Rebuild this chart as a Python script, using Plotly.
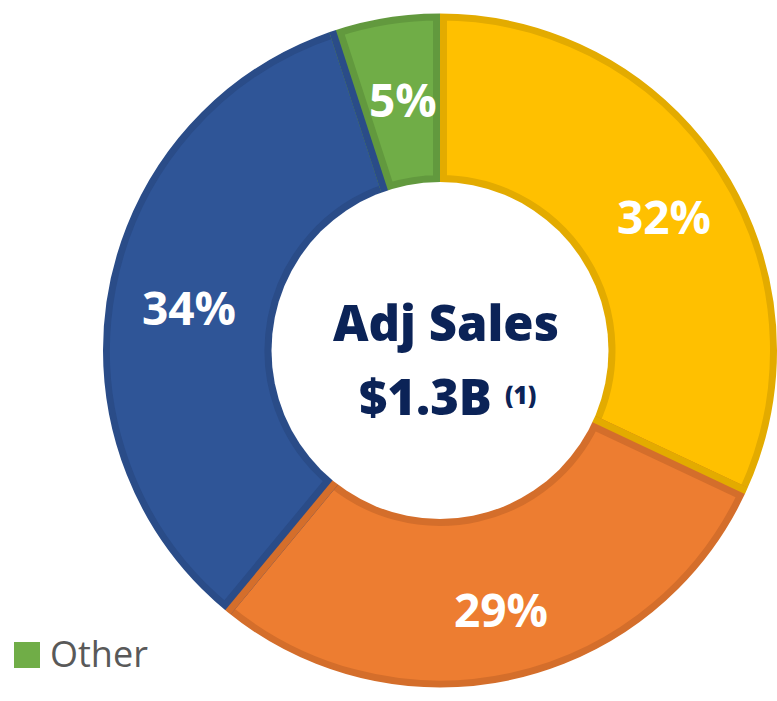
import math
import plotly.graph_objects as go

# ---- data ----
categories = ["Segment A", "Segment B", "Segment C", "Other"]
values = [32, 29, 34, 5]
fill_colors = ["#FFC000", "#ED7D31", "#2F5597", "#70AD47"]
edge_colors = ["#E3AB00", "#D46E2B", "#2A4C88", "#62993E"]
center_title = "Adj Sales"
center_value = "$1.3B"
center_note = "(1)"
legend_label = "Other"
legend_color = "#70AD47"

# ---- geometry (pixels) ----
W, H = 777, 701
CX, CY, R = 440.0, 350.5, 337.0
HOLE = 0.5
B = 7  # inner border width
LABEL_R = 260.0


def px(x):
    return x / W


def py(y):
    return 1 - y / H


fig = go.Figure()
fig.add_trace(go.Pie(
    labels=categories,
    values=values,
    sort=False,
    direction="clockwise",
    rotation=0,
    hole=HOLE,
    textinfo="none",
    marker=dict(colors=fill_colors, line=dict(color=edge_colors, width=2 * B)),
    domain=dict(x=[(2 * CX - W) / W, 1], y=[0, 1]),
    showlegend=False,
    hoverinfo="label+percent",
))

shapes = []
rh = R * HOLE
total = sum(values)

# each slice keeps its own darker edge on its side of a shared boundary
n = len(values)
cum = 0.0
bounds = []
for v in values:
    cum += v
    bounds.append(cum / total)
for i in range(n):
    theta = 2 * math.pi * (bounds[i] % 1.0)
    j = (i + 1) % n
    if j == 0:
        side, color = 1.0, edge_colors[0]      # first slice, clockwise side
    else:
        side, color = -1.0, edge_colors[i]     # earlier slice, counter-clockwise side
    ox = side * (B / 2) * math.cos(theta)
    oy = side * (B / 2) * math.sin(theta)
    r0, r1 = rh - 4, R + 4
    x0 = CX + r0 * math.sin(theta) + ox
    y0 = CY - r0 * math.cos(theta) + oy
    x1 = CX + r1 * math.sin(theta) + ox
    y1 = CY - r1 * math.cos(theta) + oy
    shapes.append(dict(type="line", xref="paper", yref="paper",
                       x0=px(x0), y0=py(y0), x1=px(x1), y1=py(y1),
                       line=dict(color=color, width=B), layer="above"))

# white ring outside the donut to keep the border inside the slices
rc = R + 9
shapes.append(dict(type="circle", xref="paper", yref="paper",
                   x0=px(CX - rc), x1=px(CX + rc), y0=py(CY + rc), y1=py(CY - rc),
                   line=dict(color="white", width=18), fillcolor="rgba(0,0,0,0)",
                   layer="above"))
# white disk in the hole
shapes.append(dict(type="circle", xref="paper", yref="paper",
                   x0=px(CX - rh), x1=px(CX + rh), y0=py(CY + rh), y1=py(CY - rh),
                   line=dict(width=0), fillcolor="white", layer="above"))
# legend swatch
shapes.append(dict(type="rect", xref="paper", yref="paper",
                   x0=px(14), x1=px(40), y0=py(668), y1=py(642),
                   line=dict(width=0), fillcolor=legend_color, layer="above"))

navy = "#0B2357"
annotations = []

# percentage labels placed at each slice's mid-angle (computed from the values)
cum = 0.0
for v in values:
    mid = (cum + v / 2) / total
    cum += v
    ang = 2 * math.pi * mid
    lx = CX + LABEL_R * math.sin(ang)
    ly = CY - LABEL_R * math.cos(ang)
    annotations.append(dict(
        text=f"{round(100 * v / total)}%", x=px(lx), y=py(ly),
        xref="paper", yref="paper", showarrow=False,
        xanchor="center", yanchor="middle", xshift=4, yshift=-5,
        font=dict(family="Open Sans", size=46, color="white", weight=700)))

annotations += [
    dict(text=center_title, x=px(446), y=py(322), xref="paper", yref="paper",
         showarrow=False, xanchor="center", yanchor="middle",
         font=dict(family="Open Sans", size=49, color=navy, weight=800)),
    dict(text=center_value, x=px(425), y=py(396), xref="paper", yref="paper",
         showarrow=False, xanchor="center", yanchor="middle",
         font=dict(family="Open Sans", size=49, color=navy, weight=800)),
    dict(text=center_note, x=px(520), y=py(394), xref="paper", yref="paper",
         showarrow=False, xanchor="center", yanchor="middle",
         font=dict(family="Open Sans", size=24, color=navy, weight=800)),
    dict(text=legend_label, x=px(48), y=py(653), xref="paper", yref="paper",
         showarrow=False, xanchor="left", yanchor="middle",
         font=dict(family="Open Sans", size=36, color="#595959")),
]

fig.update_layout(
    width=W, height=H,
    margin=dict(l=0, r=0, t=0, b=0),
    paper_bgcolor="white",
    plot_bgcolor="white",
    shapes=shapes,
    annotations=annotations,
)

fig.write_html(
    "out.html",
    config={"displayModeBar": False},
    post_script="document.body.style.margin='0px';document.body.style.overflow='hidden';",
)
